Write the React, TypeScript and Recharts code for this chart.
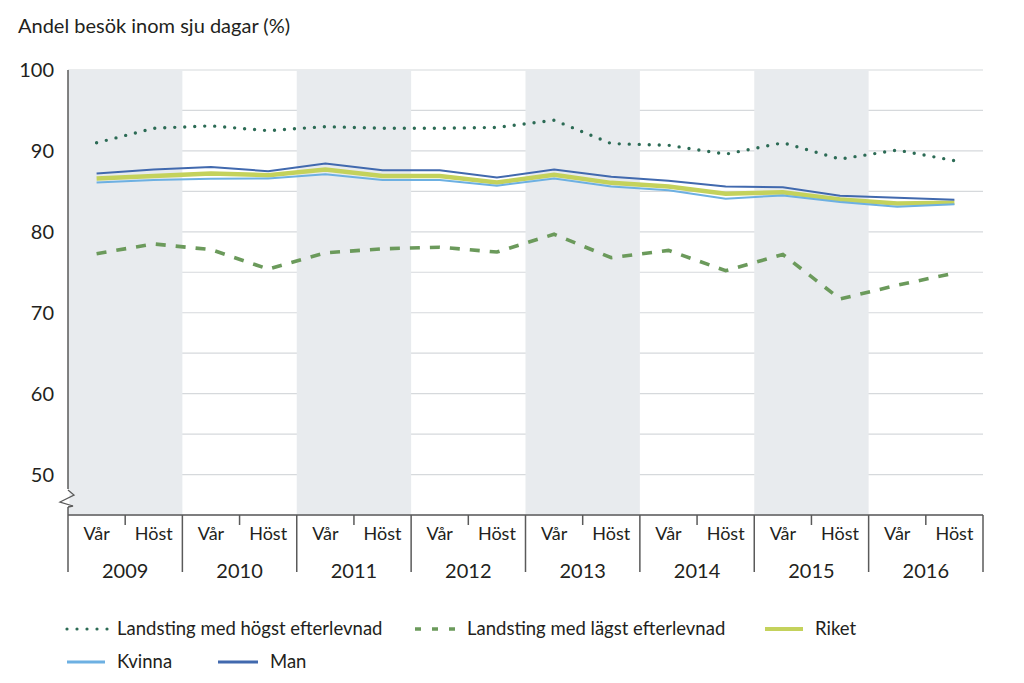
import React from 'react';
import { LineChart, Line, XAxis, YAxis, CartesianGrid, ReferenceArea, Legend } from 'recharts';

const years = ['2009', '2010', '2011', '2012', '2013', '2014', '2015', '2016'];
const seasons = ['Vår', 'Höst'];
const shadedYears = ['2009', '2011', '2013', '2015'];

const high = [91.0, 92.8, 93.1, 92.5, 93.0, 92.8, 92.8, 92.9, 93.8, 90.9, 90.7, 89.6, 91.0, 89.0, 90.1, 88.8];
const low = [77.3, 78.5, 77.8, 75.4, 77.4, 77.9, 78.1, 77.5, 79.7, 76.8, 77.7, 75.2, 77.2, 71.7, 73.4, 74.9];
const riket = [86.6, 86.9, 87.2, 87.0, 87.7, 86.9, 86.9, 86.1, 87.05, 86.05, 85.6, 84.7, 84.9, 84.0, 83.5, 83.6];
const kvinna = [86.1, 86.4, 86.55, 86.6, 87.1, 86.4, 86.4, 85.7, 86.6, 85.6, 85.15, 84.1, 84.5, 83.7, 83.1, 83.4];
const man = [87.2, 87.7, 88.0, 87.5, 88.45, 87.6, 87.6, 86.7, 87.7, 86.8, 86.3, 85.6, 85.5, 84.45, 84.2, 83.95];

const yTicks = [45, 50, 55, 60, 65, 70, 75, 80, 85, 90, 95, 100];

const FONT = 'Lato, "Open Sans", sans-serif';
const TEXT = '#231f20';

const data = years.flatMap((y, yi) =>
  seasons.map((s, si) => {
    const i = yi * 2 + si;
    return {
      key: `${y}-${s}`,
      year: y,
      season: s,
      high: high[i],
      low: low[i],
      riket: riket[i],
      kvinna: kvinna[i],
      man: man[i],
    };
  })
);

const series = [
  { key: 'high', name: 'Landsting med högst efterlevnad', color: '#2c6b55', width: 3.4, dash: '0 10', legendDash: '0 10', legendWidth: 3.2, cap: 'round' as const },
  { key: 'low', name: 'Landsting med lägst efterlevnad', color: '#6b9a5b', width: 3.6, dash: '10 10', legendDash: '6 11', legendWidth: 3.5, cap: 'butt' as const },
  { key: 'riket', name: 'Riket', color: '#c4d25c', width: 4.5, dash: undefined, legendDash: undefined, legendWidth: 4, cap: 'butt' as const },
  { key: 'kvinna', name: 'Kvinna', color: '#6db0e2', width: 2, dash: undefined, legendDash: undefined, legendWidth: 3, cap: 'butt' as const },
  { key: 'man', name: 'Man', color: '#4169ae', width: 2, dash: undefined, legendDash: undefined, legendWidth: 3, cap: 'butt' as const },
];

// legend layout: marker start/end and text start (page px), row centre
const legendPos: Record<string, { m0: number; m1: number; t: number; cy: number }> = {
  high: { m0: 67, m1: 109, t: 117, cy: 629 },
  low: { m0: 415, m1: 457, t: 467, cy: 629 },
  riket: { m0: 765, m1: 803, t: 815, cy: 629 },
  kvinna: { m0: 67, m1: 105, t: 117, cy: 662 },
  man: { m0: 218, m1: 258, t: 270, cy: 662 },
};

const AXIS = '#5a5a5a';

const XTick = (props: any) => {
  const { x, y, payload } = props;
  const idx = payload.index ?? props.index;
  const d = data[idx];
  const half = payload.offset || 28.6;
  const isVar = idx % 2 === 0;
  return (
    <g>
      <text x={x} y={y + 25} textAnchor="middle" fontSize={18} fontFamily={FONT} fill={TEXT}>
        {d.season}
      </text>
      {isVar ? (
        <>
          <line x1={x - half} x2={x - half} y1={y} y2={y + 57} stroke={AXIS} strokeWidth={1.5} />
          <text x={x + half} y={y + 63} textAnchor="middle" fontSize={20} fontFamily={FONT} fill={TEXT}>
            {d.year}
          </text>
        </>
      ) : (
        <line x1={x - half} x2={x - half} y1={y} y2={y + 10} stroke={AXIS} strokeWidth={1.5} />
      )}
      {idx === data.length - 1 && (
        <line x1={x + half} x2={x + half} y1={y} y2={y + 57} stroke={AXIS} strokeWidth={1.5} />
      )}
    </g>
  );
};

const YTick = (props: any) => {
  const { x, y, payload } = props;
  const v = payload.value;
  if (v === 45) {
    return (
      <g>
        <line x1={x} x2={x} y1={y - 26} y2={y - 8} stroke="#ffffff" strokeWidth={3} />
        <path
          d={`M${x},${y - 25} L${x + 6},${y - 20} L${x - 8},${y - 13} L${x + 5},${y - 9} L${x},${y - 8}`}
          fill="none"
          stroke={AXIS}
          strokeWidth={1.3}
        />
      </g>
    );
  }
  if (v % 10 !== 0) return <g />;
  return (
    <text x={x - 14} y={y + 7} textAnchor="end" fontSize={20} fontFamily={FONT} fill={TEXT}>
      {v}
    </text>
  );
};

const LegendContent = () => (
  <svg width={1024} height={70} style={{ display: 'block' }}>
    {series.map((s) => {
      const p = legendPos[s.key];
      const cy = p.cy - 610;
      return (
        <g key={s.key}>
          <line
            x1={p.m0}
            x2={p.m1}
            y1={cy}
            y2={cy}
            stroke={s.color}
            strokeWidth={s.legendWidth}
            strokeDasharray={s.legendDash}
            strokeLinecap={s.cap}
          />
          <text x={p.t} y={cy + 6} fontSize={18.5} fontFamily={FONT} fill={TEXT}>
            {s.name}
          </text>
        </g>
      );
    })}
  </svg>
);

export default function App() {
  return (
    <div style={{ position: 'absolute', left: 0, top: 0, width: 1024, height: 683, background: '#fff' }}>
      <div
        style={{ position: 'absolute', left: 18, top: 13, fontFamily: FONT, fontSize: 20, color: TEXT, whiteSpace: 'nowrap' }}
      >
        Andel besök inom sju dagar (%)
      </div>
      <LineChart width={1024} height={683} data={data} margin={{ top: 70, right: 41, bottom: 38, left: 18 }}>
        {shadedYears.map((y) => (
          <ReferenceArea
            key={y}
            x1={`${y}-Vår`}
            x2={`${y}-Höst`}
            y1={45}
            y2={100}
            fill="#e8ebee"
            fillOpacity={1}
            stroke="none"
          />
        ))}
        <CartesianGrid vertical={false} stroke="#d6d9dc" strokeWidth={1.2} />
        <XAxis
          dataKey="key"
          scale="band"
          interval={0}
          tickLine={false}
          tickSize={0}
          tickMargin={0}
          height={60}
          axisLine={{ stroke: AXIS, strokeWidth: 1.5 }}
          tick={<XTick />}
        />
        <YAxis
          domain={[45, 100]}
          ticks={yTicks}
          width={50}
          tickLine={false}
          tickSize={0}
          tickMargin={0}
          axisLine={{ stroke: AXIS, strokeWidth: 1.5 }}
          tick={<YTick />}
          allowDataOverflow
        />
        {series.map((s) => (
          <Line
            key={s.key}
            type="linear"
            dataKey={s.key}
            name={s.name}
            stroke={s.color}
            strokeWidth={s.width}
            strokeDasharray={s.dash}
            strokeLinecap={s.cap}
            dot={false}
            activeDot={false}
            isAnimationActive={false}
          />
        ))}
        <Legend
          content={<LegendContent />}
          wrapperStyle={{ position: 'absolute', left: 0, top: 610, width: 1024, height: 70 }}
        />
      </LineChart>
    </div>
  );
}
